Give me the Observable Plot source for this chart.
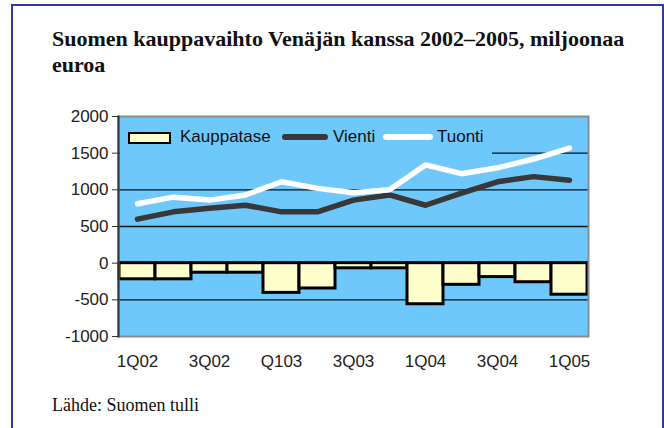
<!DOCTYPE html>
<html>
<head>
<meta charset="utf-8">
<script src="https://cdn.jsdelivr.net/npm/d3@7"></script>
<script src="https://cdn.jsdelivr.net/npm/@observablehq/plot@0.6"></script>
<style>
  html, body { margin: 0; padding: 0; background: #fff; }
  #page { position: relative; width: 664px; height: 428px; overflow: hidden; }
  #frame { position: absolute; left: 11px; top: 4px; width: 653px; height: 440px; border: 2px solid #3636a6; box-sizing: border-box; }
  #title { position: absolute; left: 52px; top: 26px; width: 590px; font-family: "Liberation Serif", "Times New Roman", serif; font-weight: bold; font-size: 22px; line-height: 26px; color: #111; }
  #source { position: absolute; left: 52px; top: 395px; font-family: "Liberation Serif", "Times New Roman", serif; font-size: 18px; color: #111; }
  #chart { position: absolute; left: 0; top: 0; }
  #legend { position: absolute; left: 120px; top: 118px; width: 372px; height: 38px; background: #6fc8fc; font-family: "Liberation Sans", Arial, sans-serif; font-size: 17px; color: #111; }
  .sw, .lt { position: absolute; }
  .lt { top: 9px; line-height: 20px; }
</style>
</head>
<body>
<div id="page">
  <div id="frame"></div>
  <div id="title">Suomen kauppavaihto Venäjän kanssa 2002–2005, miljoonaa euroa</div>
  <div id="chart"></div>
  <div id="legend"></div>
  <div id="source">Lähde: Suomen tulli</div>
</div>
<script>
const quarters = ["1Q02","2Q02","3Q02","4Q02","Q103","2Q03","3Q03","4Q03","1Q04","2Q04","3Q04","4Q04","1Q05"];
const tickLabels = ["1Q02","3Q02","Q103","3Q03","1Q04","3Q04","1Q05"];
const kauppatase = [-220,-220,-130,-130,-405,-345,-70,-70,-560,-295,-190,-260,-430];
const vienti = [600,700,750,790,700,700,860,930,790,955,1110,1180,1130];
const tuonti = [810,900,860,930,1110,1020,960,1000,1340,1220,1300,1420,1570];
const yTicks = [-1000,-500,0,500,1000,1500,2000];
const gridValues = [1500,1000,500,0,-500];
const seriesNames = ["Kauppatase","Vienti","Tuonti"];

const rows = quarters.map((q,i) => ({q, k: kauppatase[i], v: vienti[i], t: tuonti[i]}));
const plotBg = "#6fc8fc";

const chart = Plot.plot({
  width: 664,
  height: 400,
  marginLeft: 118,
  marginRight: 76,
  marginTop: 116,
  marginBottom: 64,
  style: {fontFamily: "'Liberation Sans', Arial, sans-serif", fontSize: "17px", color: "#222", background: "transparent"},
  x: {type: "band", domain: quarters, padding: 0, label: null},
  y: {domain: [-1000, 2000], label: null},
  marks: [
    Plot.frame({fill: plotBg, stroke: "none"}),
    Plot.ruleY(gridValues, {stroke: "#111", strokeWidth: 1.3}),
    Plot.barY(rows, {x: "q", y: "k", fill: "#ffffcc", stroke: "#000", strokeWidth: 3, inset: 0}),
    Plot.line(rows, {x: "q", y: "v", stroke: "#383838", strokeWidth: 5.5, curve: "linear"}),
    Plot.line(rows, {x: "q", y: "t", stroke: "#ffffff", strokeWidth: 5.5, curve: "linear"}),
    Plot.frame({stroke: "#8c8c8c", strokeWidth: 2}),
    Plot.frame({anchor: "left", stroke: "#333", strokeWidth: 2}),
    Plot.axisY(yTicks, {tickSize: 6, tickPadding: 4, stroke: "#333", fontSize: 17, tickFormat: d => String(d)}),
    Plot.axisX(tickLabels, {tickSize: 0, tickPadding: 18, fontSize: 17})
  ]
});
document.getElementById("chart").appendChild(chart);

// legend (positions relative to legend box at left 120, top 118)
const legend = document.getElementById("legend");
const items = [
  {name: seriesNames[0], swLeft: 8, txtLeft: 60, sw: 'top:14px;width:39px;height:8px;background:#ffffcc;border:2.5px solid #000;'},
  {name: seriesNames[1], swLeft: 162, txtLeft: 213, sw: 'top:16px;width:46px;height:6px;background:#383838;border-radius:3px;'},
  {name: seriesNames[2], swLeft: 263, txtLeft: 317, sw: 'top:16px;width:50px;height:6px;background:#ffffff;border-radius:3px;'}
];
for (const it of items) {
  const s = document.createElement("div");
  s.className = "sw";
  s.style.cssText = it.sw;
  s.style.left = it.swLeft + "px";
  legend.appendChild(s);
  const t = document.createElement("div");
  t.className = "lt";
  t.style.left = it.txtLeft + "px";
  t.textContent = it.name;
  legend.appendChild(t);
}
</script>
</body>
</html>
